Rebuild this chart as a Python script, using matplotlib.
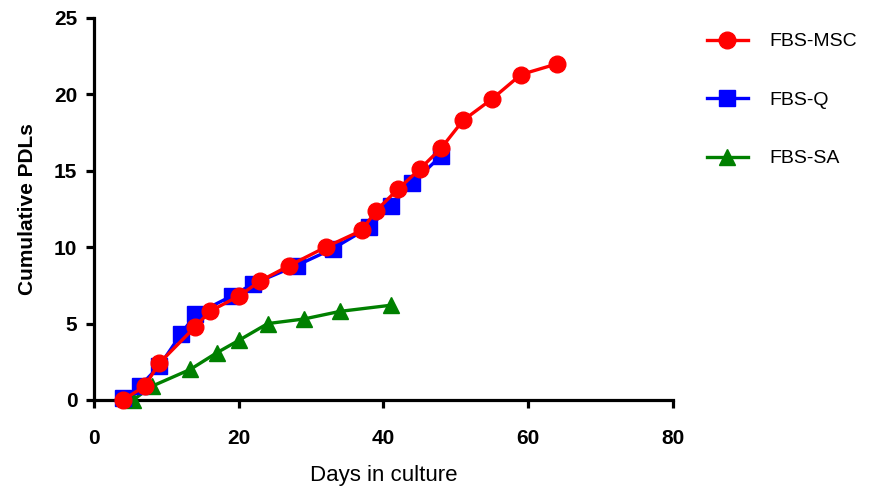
import matplotlib
matplotlib.use("Agg")
import matplotlib.pyplot as plt

plt.rcParams["font.family"] = ["Liberation Sans", "DejaVu Sans"]

# data
msc_days = [4, 7, 9, 14, 16, 20, 23, 27, 32, 37, 39, 42, 45, 48, 51, 55, 59, 64]
msc_pdl = [0, 0.9, 2.4, 4.8, 5.8, 6.8, 7.8, 8.8, 10.0, 11.1, 12.4, 13.8, 15.1, 16.5, 18.3, 19.7, 21.3, 22.0]

q_days = [4, 6.3, 9, 12, 14, 19, 22, 28, 33, 38, 41, 44, 48]
q_pdl = [0.1, 0.9, 2.2, 4.3, 5.6, 6.8, 7.6, 8.8, 9.9, 11.3, 12.7, 14.2, 16.0]

sa_days = [5.4, 8, 13.3, 17, 20, 24, 29, 34, 41]
sa_pdl = [0, 0.9, 2.0, 3.1, 3.9, 5.0, 5.3, 5.8, 6.2]

fig = plt.figure(figsize=(8.87, 4.9), dpi=100)
ax = fig.add_axes([0.106, 0.1837, 0.6527, 0.7796])

ax.plot(sa_days, sa_pdl, color="#008000", marker="^", markersize=11, lw=2.4, label="FBS-SA", zorder=3, clip_on=False)
ax.plot(q_days, q_pdl, color="#0000ff", marker="s", markersize=11, lw=2.4, label="FBS-Q", zorder=4, clip_on=False)
ax.plot(msc_days, msc_pdl, color="#ff0000", marker="o", markersize=12, lw=2.4, label="FBS-MSC", zorder=5, clip_on=False)

ax.set_xlim(0, 80)
ax.set_ylim(0, 25)
ax.set_xticks([0, 20, 40, 60, 80])
ax.set_yticks([0, 5, 10, 15, 20, 25])

for s in ["top", "right"]:
    ax.spines[s].set_visible(False)
for s in ["left", "bottom"]:
    ax.spines[s].set_linewidth(2.3)
ax.tick_params(width=2.3, length=6, labelsize=15, pad=6)
for lab in ax.get_xticklabels() + ax.get_yticklabels():
    lab.set_fontweight("bold")
ax.tick_params(axis="x", pad=15)

ax.set_xlabel("Days in culture", fontsize=16, labelpad=12)
ax.set_ylabel("Cumulative PDLs", fontsize=15, fontweight="bold", labelpad=12)

h, l = ax.get_legend_handles_labels()
fig.legend(h[::-1], l[::-1], loc="upper left", bbox_to_anchor=(0.797, 0.933),
           frameon=False, fontsize=14, handlelength=2.1, labelspacing=2.1,
           handletextpad=1.1, borderpad=0, borderaxespad=0)

fig.savefig("out.png", dpi=100)
